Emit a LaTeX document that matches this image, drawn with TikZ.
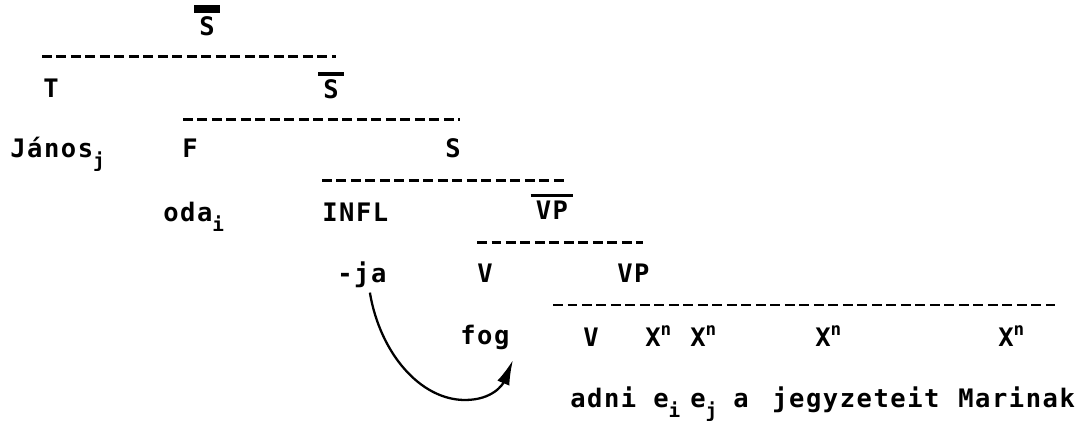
\documentclass[tikz,border=0pt]{standalone}
\usepackage{fontspec}
\newfontfamily\dotfont[LetterSpace=6]{DejaVu Sans Mono}
\usetikzlibrary{arrows.meta}
\newcommand{\barover}[2]{\vbox{\hrule height #1\kern 2.5pt\hbox{\kern 3pt#2\kern 3pt}}}
\newcommand{\lowsub}[1]{\raisebox{-0.7ex}{\fontsize{11}{11}\selectfont #1}}
\newcommand{\highsup}[1]{\raisebox{0.85ex}{\fontsize{10}{10}\selectfont #1}}
\tikzset{
	word/.style={anchor=base west, inner sep=0pt, font=\dotfont\bfseries\fontsize{14.5}{16}\selectfont},
	cat/.style={word, anchor=base},
	level/.style={line width=1.7pt, dash pattern=on 0.2cm off 0.09cm},
	move/.style={line width=1.3pt, -{Latex[length=0.5cm, width=0.26cm]}}
}
\begin{document}
\begin{tikzpicture}[x=0.02cm, y=-0.02cm]
		\useasboundingbox (0,0) rectangle (1086,421);
		
		\node[cat] (sbb) at (207,36) {\barover{4.5pt}{S}};
		
		\node[word] (top) at (43,98) {T};
		\node[cat] (sb) at (331,99) {\barover{2pt}{S}};
		
		\node[word] (janos) at (10,158) {János\lowsub{j}};
		\node[word] (f) at (182,158) {F};
		\node[word] (s) at (445,158) {S};
		
		\node[word] (oda) at (163,222) {oda\lowsub{i}};
		\node[word] (infl) at (322,222) {INFL};
		\node[cat] (vpb) at (552,220) {\barover{2pt}{VP}};
		
		\node[word] (ja) at (337,283) {-ja};
		\node[word] (v) at (477,283) {V};
		\node[word] (vp) at (617,283) {VP};
		
		\node[word] (fog) at (460,345) {fog};
		\node[word] (vv) at (583,347) {V};
		\node[word] (xa) at (645,347) {X\highsup{n}};
		\node[word] (xb) at (690,347) {X\highsup{n}};
		\node[word] (xc) at (815,347) {X\highsup{n}};
		\node[word] (xd) at (998,347) {X\highsup{n}};
		
		\node[word] (adni) at (570,408) {adni};
		\node[word] (ei) at (653,408) {e\lowsub{i}};
		\node[word] (ej) at (690,408) {e\lowsub{j}};
		\node[word] (art) at (733,408) {a};
		\node[word] (jegyz) at (772,408) {jegyzeteit};
		\node[word] (marinak) at (958,408) {Marinak};
		
		% dashed levels
		\coordinate (l1w) at (42,57);   \coordinate (l1e) at (336,57);
		\coordinate (l2w) at (183,120); \coordinate (l2e) at (460,120);
		\coordinate (l3w) at (322,181); \coordinate (l3e) at (568,181);
		\coordinate (l4w) at (477,243); \coordinate (l4e) at (643,243);
		\coordinate (l5w) at (553,305); \coordinate (l5e) at (1055,305);
		\draw[level] (l1w) -- (l1e);
		\draw[level] (l2w) -- (l2e);
		\draw[level] (l3w) -- (l3e);
		\draw[level] (l4w) -- (l4e);
		\draw[level] (l5w) -- (l5e);
		
		% movement of -ja
		\coordinate (bend) at (465,400);
		\coordinate (landing) at (513,360);
		\draw[move] ([xshift=0.16cm, yshift=-0.08cm]ja.south) .. controls +(10,60) and +(-45,0) .. (bend)
		.. controls +(28,0) and +(-10,24) .. (landing);
		
	\end{tikzpicture}
\end{document}
